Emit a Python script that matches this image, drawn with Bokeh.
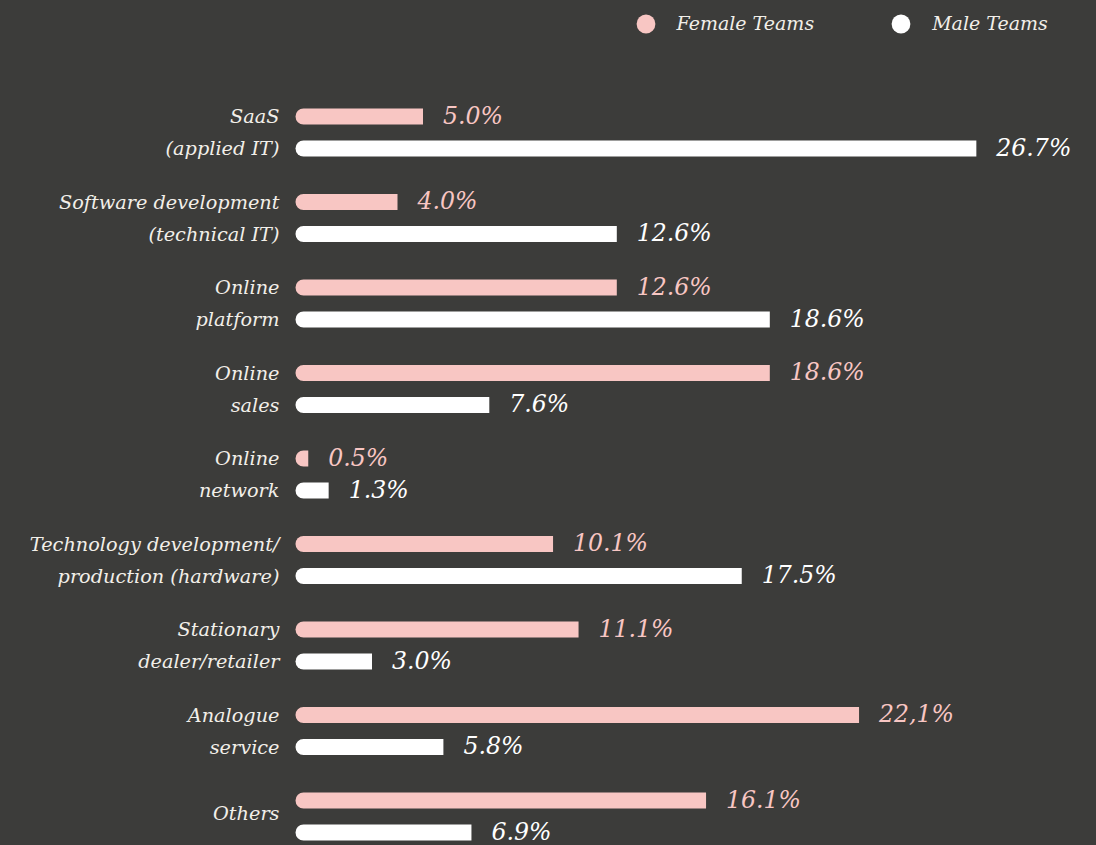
from bokeh.plotting import figure
from bokeh.models import Range1d, Legend, LegendItem, ColumnDataSource
from bokeh.core.properties import value
from bokeh.embed import file_html
from bokeh.resources import INLINE

# ---- data ----
categories = [
    "SaaS\n(applied IT)",
    "Software development\n(technical IT)",
    "Online\nplatform",
    "Online\nsales",
    "Online\nnetwork",
    "Technology development/\nproduction (hardware)",
    "Stationary\ndealer/retailer",
    "Analogue\nservice",
    "Others",
]
female = [5.0, 4.0, 12.6, 18.6, 0.5, 10.1, 11.1, 22.1, 16.1]
male = [26.7, 12.6, 18.6, 7.6, 1.3, 17.5, 3.0, 5.8, 6.9]
female_labels = ["5.0%", "4.0%", "12.6%", "18.6%", "0.5%", "10.1%", "11.1%", "22,1%", "16.1%"]
male_labels = ["26.7%", "12.6%", "18.6%", "7.6%", "1.3%", "17.5%", "3.0%", "5.8%", "6.9%"]
series_names = ["Female Teams", "Male Teams"]

# ---- style ----
BG = "#3c3c3a"
PINK = "#f8c6c3"
WHITE = "#ffffff"
TEXT = "#f2efe9"
FONT = "DejaVu Serif"
OFF = 0.374      # male bar offset within a row (row units)
BAR_H = 0.187

n = len(categories)
yf = [i for i in range(n)]
ym = [i + OFF for i in range(n)]

W, H = 1096, 845
p = figure(width=W, height=H,
           x_range=Range1d(-11.569, 31.412), y_range=Range1d(8.526, -1.357),
           output_backend="svg", toolbar_location=None, min_border=0,
           x_axis_location=None, y_axis_location=None,
           background_fill_color=BG, border_fill_color=BG, outline_line_color=None)
p.grid.visible = False

src_f = ColumnDataSource(dict(y=yf, right=female, label=female_labels))
src_m = ColumnDataSource(dict(y=ym, right=male, label=male_labels))

p.hbar(y="y", left=0, right="right", height=BAR_H, fill_color=PINK, line_color=None,
       border_radius=(8, 0, 0, 8), source=src_f)
p.hbar(y="y", left=0, right="right", height=BAR_H, fill_color=WHITE, line_color=None,
       border_radius=(8, 0, 0, 8), source=src_m)

p.text(x="right", y="y", text="label", source=src_f, x_offset=20, y_offset=-1,
       text_align="left", text_baseline="middle", text_font=value(FONT),
       text_font_style="italic", text_font_size="23.6px", text_color=PINK)
p.text(x="right", y="y", text="label", source=src_m, x_offset=20, y_offset=-1,
       text_align="left", text_baseline="middle", text_font=value(FONT),
       text_font_style="italic", text_font_size="23.6px", text_color=WHITE)

# category labels
cx, cy, ct = [], [], []
for i, c in enumerate(categories):
    parts = c.split("\n")
    if len(parts) == 2:
        cx += [0, 0]
        cy += [yf[i], ym[i]]
        ct += parts
    else:
        cx.append(0)
        cy.append(yf[i] + OFF * 0.4)
        ct.append(parts[0])
p.text(x=cx, y=cy, text=ct, x_offset=-16, text_align="right", text_baseline="middle",
       text_font=value(FONT), text_font_style="italic", text_font_size="19.3px",
       text_color=TEXT)

# legend
nan = float("nan")
rf = p.scatter(x=[nan], y=[nan], marker="circle", fill_color=PINK, line_color=None)
rm = p.scatter(x=[nan], y=[nan], marker="circle", fill_color=WHITE, line_color=None)
legend = Legend(items=[LegendItem(label=series_names[0], renderers=[rf]),
                       LegendItem(label=series_names[1], renderers=[rm])],
                orientation="horizontal", location=(621.5, 798.5),
                glyph_width=47, glyph_height=47, label_standoff=8, spacing=63,
                padding=0, margin=0, border_line_alpha=0, background_fill_alpha=0,
                label_text_font=FONT, label_text_font_style="italic",
                label_text_font_size="19px", label_text_color=TEXT)
p.add_layout(legend)

html = file_html(p, INLINE)
i = html.rfind("<body")
if i >= 0:
    html = html[:i] + '<body style="background-color:%s;"' % BG + html[i + 5:]
open("out.html", "w").write(html)
